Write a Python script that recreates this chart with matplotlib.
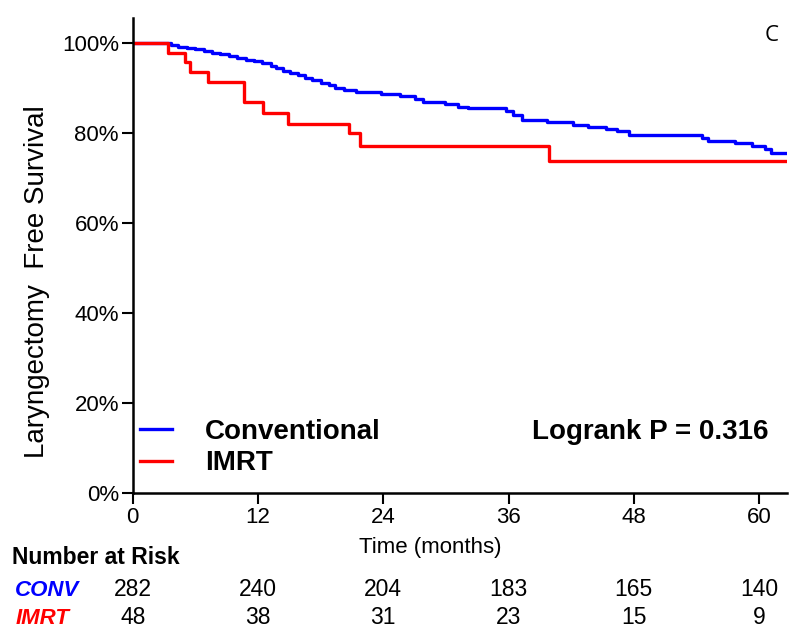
import matplotlib
matplotlib.use("Agg")
import matplotlib.pyplot as plt
from matplotlib.lines import Line2D

plt.rcParams["font.family"] = ["Liberation Sans", "DejaVu Sans"]

# Kaplan-Meier steps (months, % surviving after the drop)
conv_time = [0, 3.7, 4.3, 5.2, 6.0, 6.8, 7.6, 8.4, 9.2, 10.0, 10.8, 11.6, 12.4,
             13.2, 13.7, 14.4, 15.1, 15.8, 16.5, 17.2, 18.0, 18.8, 19.4, 20.2,
             21.4, 23.8, 25.6, 27.0, 27.8, 29.9, 31.2, 32.1, 35.8, 36.4, 37.3,
             39.7, 42.2, 43.6, 45.3, 46.4, 47.5, 54.5, 55.1, 57.7, 59.3, 60.6,
             61.1, 62.6]
conv_surv = [100, 99.6, 99.2, 98.9, 98.6, 98.2, 97.9, 97.5, 97.1, 96.7, 96.3,
             96.0, 95.6, 95.0, 94.4, 93.9, 93.4, 92.9, 92.3, 91.7, 91.2, 90.7,
             90.1, 89.6, 89.1, 88.7, 88.2, 87.6, 86.9, 86.4, 85.9, 85.5, 84.8,
             84.0, 83.0, 82.4, 81.9, 81.4, 80.9, 80.4, 79.5, 78.8, 78.2, 77.7,
             77.1, 76.4, 75.6, 75.6]

imrt_time = [0, 3.4, 5.0, 5.5, 7.2, 10.7, 12.5, 14.9, 20.7, 21.8, 39.9, 62.6]
imrt_surv = [100, 97.9, 95.8, 93.6, 91.4, 87.0, 84.5, 82.1, 80.0, 77.1, 73.9, 73.9]

x_ticks = [0, 12, 24, 36, 48, 60]
y_ticks = [0, 20, 40, 60, 80, 100]
y_tick_labels = ["0%", "20%", "40%", "60%", "80%", "100%"]

risk_times = [0, 12, 24, 36, 48, 60]
conv_risk = [282, 240, 204, 183, 165, 140]
imrt_risk = [48, 38, 31, 23, 15, 9]

BLUE = "#0000FF"
RED = "#FF0000"

fig = plt.figure(figsize=(8, 6.4), dpi=100)
ax = fig.add_axes([0.166, 0.2297, 0.818, 0.7423])

ax.step(conv_time, conv_surv, where="post", color=BLUE, linewidth=2.4,
        label="Conventional")
ax.step(imrt_time, imrt_surv, where="post", color=RED, linewidth=2.4,
        label="IMRT")

ax.set_xlim(0, 62.7)
ax.set_ylim(0, 105.6)
ax.set_xticks(x_ticks)
ax.set_yticks(y_ticks)
ax.set_yticklabels(y_tick_labels)
ax.tick_params(axis="both", direction="out", length=8, width=1.5,
               labelsize=16, colors="black", pad=2)
for side in ["top", "right"]:
    ax.spines[side].set_visible(False)
for side in ["left", "bottom"]:
    ax.spines[side].set_linewidth(1.8)

ax.set_ylabel("Laryngectomy  Free Survival", fontsize=20)
ax.yaxis.set_label_coords(-0.127, 0.444)
ax.set_xlabel("Time (months)", fontsize=16)
ax.xaxis.set_label_coords(0.455, -0.093)

# legend
handles = [Line2D([], [], color=BLUE, linewidth=2.4),
           Line2D([], [], color=RED, linewidth=2.4)]
ax.legend(handles, ["Conventional", "IMRT"], loc="lower left",
          bbox_to_anchor=(0.011, 0.035), frameon=False, borderpad=0,
          borderaxespad=0, prop={"weight": "bold", "size": 20},
          handlelength=1.15, handletextpad=1.2, labelspacing=0.2)

ax.text(0.972, 0.128, "Logrank P = 0.316", transform=ax.transAxes,
        ha="right", va="center", fontsize=20, fontweight="bold")
ax.text(0.976, 0.962, "C", transform=ax.transAxes, ha="center", va="center",
        fontsize=16, family="Open Sans")

# number at risk table
tr = ax.get_xaxis_transform()
fig.text(0.015, 1 - 557 / 640, "Number at Risk", ha="left", va="center",
         fontsize=16.5, fontweight="bold")
fig.text(0.019, 1 - 590 / 640, "CONV", ha="left", va="center", fontsize=16,
         fontweight="bold", style="italic", color=BLUE)
fig.text(0.019, 1 - 618 / 640, "IMRT", ha="left", va="center", fontsize=16,
         fontweight="bold", style="italic", color=RED)
y_conv = (1 - 590 / 640 - 0.2297) / 0.7423
y_imrt = (1 - 618 / 640 - 0.2297) / 0.7423
for t, c, m in zip(risk_times, conv_risk, imrt_risk):
    ax.text(t, y_conv, str(c), transform=tr, ha="center", va="center",
            fontsize=16.5, clip_on=False)
    ax.text(t, y_imrt, str(m), transform=tr, ha="center", va="center",
            fontsize=16.5, clip_on=False)

fig.savefig("out.png", dpi=100)
